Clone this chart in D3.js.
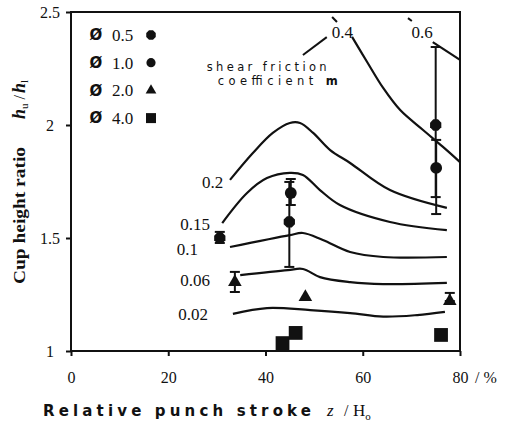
<!DOCTYPE html>
<html>
<head>
<meta charset="utf-8">
<script src="https://cdn.jsdelivr.net/npm/d3@7"></script>
<style>
  body { margin: 0; background: #fff; }
  svg text { fill: #111; }
</style>
</head>
<body>
<div id="chart"></div>
<script>
// axis ticks
const xTicks = [0, 20, 40, 60, 80];
const yTicks = [1, 1.5, 2, 2.5];

// fitted curves, one per shear friction coefficient m  [z/H0 %, hu/hl]
const curve002 = [[33.3,1.164],[40.3,1.190],[49.2,1.181],[57.4,1.168],[64.2,1.152],[71.2,1.159],[76.9,1.173]];
const curve006 = [[34.8,1.336],[44.6,1.358],[47.7,1.363],[51.2,1.327],[57.4,1.305],[64.2,1.296],[77.3,1.301]];
const curve01  = [[32.7,1.460],[45.0,1.513],[47.7,1.522],[51.8,1.491],[57.4,1.438],[64.2,1.416],[77.3,1.416]];
const curve015 = [[31.1,1.566],[36.2,1.699],[40.3,1.765],[45.0,1.788],[47.7,1.779],[51.2,1.712],[55.3,1.646],[65.6,1.571],[77.3,1.535]];
const curve02  = [[32.7,1.757],[37.4,1.876],[41.5,1.965],[45.0,2.009],[47.1,2.009],[49.8,1.965],[53.3,1.889],[57.4,1.832],[65.6,1.712],[77.3,1.633]];
const curve04  = [[57.8,2.390],[60.9,2.279],[64.2,2.164],[67.7,2.066],[72.4,1.978],[76.5,1.903],[80.0,1.836]];
const curve06  = [[74.4,2.367],[80.0,2.288]];

const curves = [curve002, curve006, curve01, curve015, curve02, curve04, curve06];
const curveNames = ["0.02", "0.06", "0.1", "0.15", "0.2", "0.4", "0.6"];
// label anchor (text end, baseline) for each curve
const curveLabelPos = [[28.2,1.137],[28.6,1.288],[26.1,1.425],[28.6,1.535],[31.3,1.721],[58.0,2.385],[74.4,2.385]];

// measured points, per punch diameter: x, y, error low, error high
const dia05 = [[30.6,1.500,1.478,1.527],[44.9,1.571,1.372,1.748],[75.0,2.000,1.681,2.345]];
const dia10 = [[45.2,1.699,1.646,1.761],[75.1,1.810,1.606,1.934]];
const dia20 = [[33.7,1.305,1.261,1.350],[48.2,1.239,null,null],[77.9,1.221,1.221,1.257]];
const dia40 = [[43.5,1.035,null,null],[46.2,1.080,null,null],[76.1,1.071,null,null]];
const diaNames = ["0.5", "1.0", "2.0", "4.0"];

const W = 510, H = 423;
const svg = d3.select("#chart").append("svg")
  .attr("width", W).attr("height", H)
  .style("font-family", "'Liberation Serif', serif");

const x = d3.scaleLinear().domain([0, 80]).range([71, 460]);
const y = d3.scaleLinear().domain([1, 2.5]).range([351, 12]);

// octagon marker
const octagon = {
  draw(ctx, size) {
    const r = Math.sqrt(size / (2 * Math.SQRT2));
    for (let i = 0; i < 8; i++) {
      const a = Math.PI / 8 + i * Math.PI / 4;
      const px = r * Math.cos(a), py = r * Math.sin(a);
      i ? ctx.lineTo(px, py) : ctx.moveTo(px, py);
    }
    ctx.closePath();
  }
};
const symTypes = [octagon, d3.symbolCircle, d3.symbolTriangle, d3.symbolSquare];
const plotSizes = [105, 110, 80, 190];
const legendSizes = [75, 66, 50, 100];

// frame
svg.append("rect")
  .attr("x", x(0)).attr("y", y(2.5))
  .attr("width", x(80) - x(0)).attr("height", y(1) - y(2.5))
  .attr("fill", "none").attr("stroke", "#111").attr("stroke-width", 2);

// axes
const xAxis = svg.append("g")
  .attr("transform", `translate(0,${y(1)})`)
  .call(d3.axisBottom(x).tickValues(xTicks).tickSize(5).tickFormat(d3.format("d")));
const yAxis = svg.append("g")
  .attr("transform", `translate(${x(0)},0)`)
  .call(d3.axisLeft(y).tickValues(yTicks).tickSize(5).tickFormat(d => String(d)));
[xAxis, yAxis].forEach(g => {
  g.select(".domain").remove();
  g.selectAll(".tick line").attr("stroke", "#111").attr("stroke-width", 2);
  g.selectAll("text").style("font-family", "'Liberation Serif', serif")
    .style("font-size", "16px").attr("fill", "#111");
});
xAxis.selectAll("text").attr("dy", 0).attr("y", 32);
yAxis.selectAll("text").attr("text-anchor", "middle").attr("x", -21).attr("dy", "0.35em");

svg.append("text")
  .attr("x", x(80) + 15).attr("y", y(1) + 32)
  .style("font-size", "16px").text("/ %");

// curves
const line = d3.line().x(d => x(d[0])).y(d => y(d[1])).curve(d3.curveCatmullRom.alpha(0.5));
svg.append("g").selectAll("path").data(curves).join("path")
  .attr("d", line)
  .attr("fill", "none").attr("stroke", "#111").attr("stroke-width", 2.2);

svg.append("g").selectAll("text").data(curveNames).join("text")
  .attr("x", (d, i) => x(curveLabelPos[i][0]))
  .attr("y", (d, i) => y(curveLabelPos[i][1]))
  .attr("text-anchor", "end")
  .style("font-size", "17px")
  .text(d => d);

// small leader strokes near the top labels
const leaders = [
  [[53.7,2.478],[54.7,2.456]],
  [[69.3,2.473],[70.1,2.460]],
  [[52.6,2.389],[47.7,2.310]]
];
svg.append("g").selectAll("path").data(leaders).join("path")
  .attr("d", d3.line().x(d => x(d[0])).y(d => y(d[1])))
  .attr("stroke", "#111").attr("stroke-width", 2);

// annotation
svg.append("text")
  .attr("x", x(27.9)).attr("y", y(2.24))
  .attr("textLength", 120).attr("lengthAdjust", "spacing")
  .style("font-family", "'DejaVu Sans', sans-serif").style("font-size", "11.5px")
  .text("shear friction");
const ann2 = svg.append("text")
  .attr("x", x(30.2)).attr("y", y(2.177))
  .attr("textLength", 120).attr("lengthAdjust", "spacing")
  .style("font-family", "'DejaVu Sans', sans-serif").style("font-size", "11.5px");
ann2.append("tspan").text("coefficient ");
ann2.append("tspan").style("font-weight", "bold").text("m");

// error bars and markers
const series = [dia05, dia10, dia20, dia40];
series.forEach((pts, si) => {
  const g = svg.append("g");
  pts.filter(p => p[2] !== null).forEach(p => {
    g.append("line").attr("x1", x(p[0])).attr("x2", x(p[0]))
      .attr("y1", y(p[2])).attr("y2", y(p[3]))
      .attr("stroke", "#111").attr("stroke-width", 2);
    [p[2], p[3]].forEach(v => {
      g.append("line").attr("x1", x(p[0]) - 5).attr("x2", x(p[0]) + 5)
        .attr("y1", y(v)).attr("y2", y(v))
        .attr("stroke", "#111").attr("stroke-width", 2);
    });
  });
  g.selectAll("path").data(pts).join("path")
    .attr("transform", d => `translate(${x(d[0])},${y(d[1])})`)
    .attr("d", d3.symbol().type(symTypes[si]).size(plotSizes[si]))
    .attr("fill", "#111");
});

// legend
const legend = svg.append("g").selectAll("g").data(diaNames).join("g")
  .attr("transform", (d, i) => `translate(0,${35 + i * 27.7})`);
legend.append("text").attr("x", 96).attr("dy", "0.35em").attr("text-anchor", "middle")
  .style("font-family", "'DejaVu Sans', sans-serif").style("font-weight", "bold").style("font-size", "15px")
  .text("Ø");
legend.append("text").attr("x", 112).attr("dy", "0.35em")
  .style("font-size", "17px").text(d => d);
legend.append("path").attr("transform", "translate(151,0)")
  .attr("d", (d, i) => d3.symbol().type(symTypes[i]).size(legendSizes[i])())
  .attr("fill", "#111");

// axis titles
svg.append("text").attr("x", 43).attr("y", 416)
  .attr("textLength", 268).attr("lengthAdjust", "spacing")
  .style("font-family", "'DejaVu Sans', sans-serif").style("font-weight", "bold").style("font-size", "15px")
  .text("Relative punch stroke");
svg.append("text").attr("x", 327).attr("y", 416)
  .style("font-style", "italic").style("font-size", "17px").text("z");
svg.append("text").attr("x", 344).attr("y", 416)
  .style("font-size", "16px").text("/");
const h0 = svg.append("text").attr("x", 353).attr("y", 416).style("font-size", "17px");
h0.append("tspan").text("H");
h0.append("tspan").attr("dy", 4).style("font-size", "11px").text("o");

const yt = svg.append("g").attr("transform", "translate(25,0) rotate(-90)");
yt.append("text").attr("x", -284).attr("y", 0)
  .attr("textLength", 137).attr("lengthAdjust", "spacingAndGlyphs")
  .style("font-family", "'Liberation Serif', serif")
  .style("font-weight", "bold").style("font-size", "17px")
  .text("Cup height ratio");
const hu = yt.append("text").attr("x", -119).attr("y", 0)
  .style("font-family", "'Liberation Serif', serif").style("font-size", "18px");
hu.append("tspan").style("font-style", "italic").style("font-weight", "bold").text("h");
hu.append("tspan").attr("dy", 3).style("font-size", "11px").text("u");
hu.append("tspan").attr("dy", -3).attr("dx", 4).style("font-size", "16px").text("/");
hu.append("tspan").attr("dx", 2).style("font-style", "italic").style("font-weight", "bold").text("h");
hu.append("tspan").attr("dy", 3).style("font-size", "11px").text("l");
</script>
</body>
</html>
